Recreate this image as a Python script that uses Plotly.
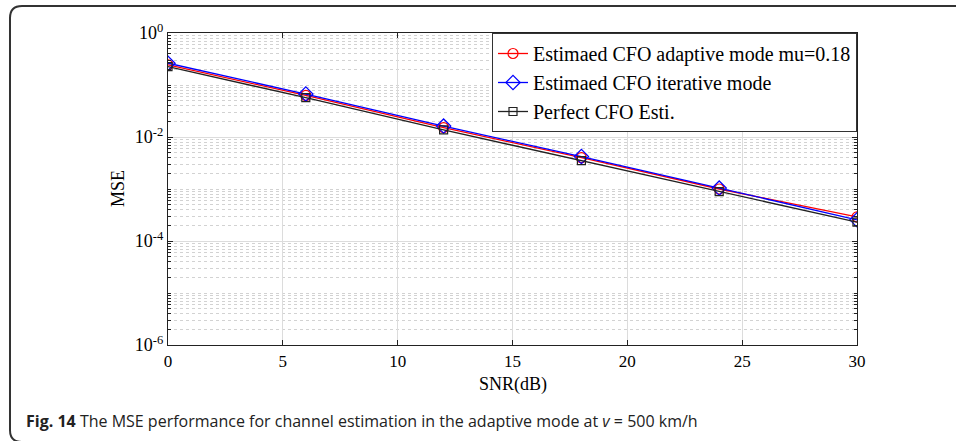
import plotly.graph_objects as go

# SNR sweep and MSE results for the three CFO settings
snr_db = [0, 6, 12, 18, 24, 30]
mse_adaptive = [0.245, 0.063, 0.0152, 0.0040, 0.00100, 0.00029]
mse_iterative = [0.262, 0.067, 0.0162, 0.0042, 0.00104, 0.000255]
mse_perfect = [0.225, 0.057, 0.0137, 0.0035, 0.00089, 0.00023]

series_names = [
    "Estimaed CFO adaptive mode mu=0.18",
    "Estimaed CFO iterative mode",
    "Perfect CFO Esti.",
]

x_ticks = [0, 5, 10, 15, 20, 25, 30]
y_major = [1e0, 1e-2, 1e-4, 1e-6]
y_major_text = ["10<sup>0</sup>", "10<sup>-2</sup>", "10<sup>-4</sup>", "10<sup>-6</sup>"]

W, H = 956, 441
serif = "Liberation Serif, Times New Roman, serif"

# minor ticks: 2..9 in every decade plus odd decades
y_minor = []
for e in range(-6, 0):
    for m in range(1, 10):
        v = m * 10.0 ** e
        if m == 1 and e % 2 == 0:
            continue
        y_minor.append(v)

fig = go.Figure()
styles = [
    dict(color="#ff0000", symbol="circle-open", size=10),
    dict(color="#0000ff", symbol="diamond-open", size=11),
    dict(color="#222222", symbol="square-open", size=8),
]
for name, ys, st in zip(series_names, [mse_adaptive, mse_iterative, mse_perfect], styles):
    fig.add_trace(go.Scatter(
        x=snr_db, y=ys, name=name, mode="lines+markers",
        line=dict(color=st["color"], width=1.3),
        marker=dict(symbol=st["symbol"], size=st["size"], color=st["color"],
                    line=dict(color=st["color"], width=1.2)),
    ))

# plot area in pixel terms
px_l, px_r, px_t, px_b = 168, 857, 33, 345

fig.update_layout(
    width=W, height=H,
    margin=dict(l=0, r=0, t=0, b=0),
    paper_bgcolor="white", plot_bgcolor="white",
    font=dict(family=serif, size=16, color="black"),
    showlegend=True,
    legend=dict(
        x=px_r / W, y=1 - px_t / H, xanchor="right", yanchor="top",
        bgcolor="white", bordercolor="#333333", borderwidth=1,
        font=dict(family=serif, size=20, color="black"),
        tracegroupgap=0, itemwidth=30,
    ),
    xaxis=dict(
        domain=[px_l / W, px_r / W], range=[0, 30],
        tickmode="array", tickvals=x_ticks, ticktext=[str(v) for v in x_ticks],
        ticks="inside", ticklen=5, tickcolor="#222222",
        showline=True, linecolor="#222222", linewidth=1.2, mirror="ticks",
        showgrid=True, gridcolor="#dcdcdc", gridwidth=1,
        zeroline=False, automargin=False,
        tickfont=dict(family=serif, size=17),
    ),
    yaxis=dict(
        domain=[1 - px_b / H, 1 - px_t / H], type="log", range=[-6, 0],
        tickmode="array", tickvals=y_major, ticktext=y_major_text,
        ticks="inside", ticklen=5, tickcolor="#222222",
        showline=True, linecolor="#222222", linewidth=1.2, mirror="ticks",
        showgrid=True, gridcolor="#dcdcdc", gridwidth=1,
        zeroline=False, automargin=False,
        tickfont=dict(family=serif, size=18),
        minor=dict(tickmode="array", tickvals=y_minor, ticks="inside", ticklen=3,
                   tickcolor="#222222", showgrid=True, gridcolor="#d2d2d2",
                   griddash="dot", gridwidth=1),
    ),
)

# axis titles
fig.add_annotation(text="SNR(dB)", x=(px_l + px_r) / 2 / W, y=1 - 384 / H,
                   xref="paper", yref="paper", xanchor="center", yanchor="middle",
                   showarrow=False, font=dict(family=serif, size=18))
fig.add_annotation(text="MSE", x=118 / W, y=1 - 189 / H, textangle=-90,
                   xref="paper", yref="paper", xanchor="center", yanchor="middle",
                   showarrow=False, font=dict(family=serif, size=18))

# figure caption
fig.add_annotation(
    text="<b>Fig. 14</b> The MSE performance for channel estimation in the adaptive mode at <i>v</i> = 500 km/h",
    x=24 / W, y=1 - 421 / H, xref="paper", yref="paper", xanchor="left", yanchor="middle",
    showarrow=False, font=dict(family="Open Sans, sans-serif", size=16, color="#222222"),
)

# rounded outer frame (top and left edges)
def px(x, y):
    return f"{x / W:.5f},{1 - y / H:.5f}"

path = (f"M {px(W, 6)} L {px(22, 6)} Q {px(10, 6)} {px(10, 18)} "
        f"L {px(10, 430)} Q {px(10, 442)} {px(22, 442)} L {px(W, 442)}")
fig.add_shape(type="path", path=path, xref="paper", yref="paper",
              line=dict(color="#333333", width=2))

fig.write_html("out.html")
